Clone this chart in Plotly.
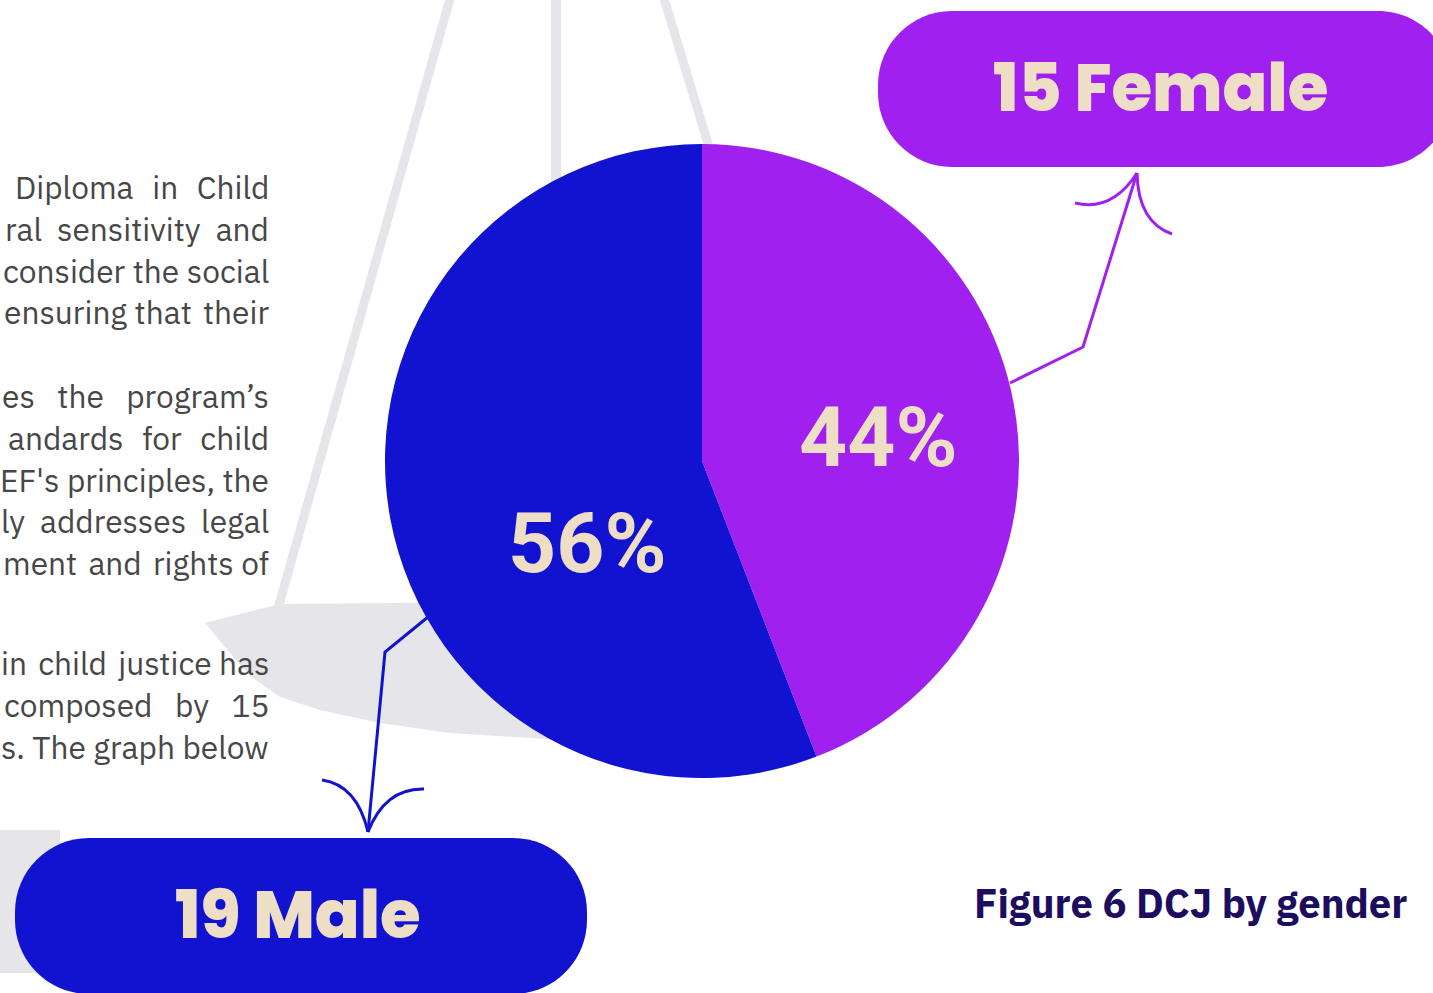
import plotly.graph_objects as go

# ---------------- data ----------------
genders = ["Female", "Male"]
counts = [15, 19]
slice_colors = ["#A020F0", "#1113D0"]
caption = "Figure 6 DCJ by gender"

NB, TH = "\u00a0", "\u2009"
body_lines = [
    f"Diploma{NB}{NB}{TH}in{NB}{NB}{TH}Child",
    f"ral{NB}{NB}sensitivity{NB}{NB}and",
    "consider the social",
    f"ensuring{NB}that{NB}{TH}their",
    f"es{NB}{NB}{NB}the{NB}{NB}{NB}program\u2019s",
    f"andards{NB}{NB}{TH}for{NB}{NB}{TH}child",
    "EF's principles, the",
    f"ly{NB}{NB}addresses{NB}{NB}legal",
    f"ment{NB}{TH}and{NB}{TH}rights{NB}of",
    f"in{NB}{TH}child{NB}{TH}justice{NB}has",
    f"composed{NB}{NB}{NB}by{NB}{NB}{NB}15",
    "s. The graph below",
]
body_y = [187, 229, 271, 312, 396, 438, 480, 521, 563, 663, 705, 747]

# ---------------- helpers ----------------
W, H = 1433, 993
CREAM = "#EEDEC6"
GRAY = "#E6E6EA"


def P(x, y):
    return f"{x / W:.5f},{1 - y / H:.5f}"


def path(cmds):
    out = []
    for c in cmds:
        op, pts = c[0], c[1:]
        out.append(op + " " + " ".join(P(*p) for p in pts))
    return " ".join(out)


def rrect(x0, y0, x1, y1, r):
    k = 0.5523 * r
    return path([
        ("M", (x0 + r, y0)),
        ("L", (x1 - r, y0)),
        ("C", (x1 - r + k, y0), (x1, y0 + r - k), (x1, y0 + r)),
        ("L", (x1, y1 - r)),
        ("C", (x1, y1 - r + k), (x1 - r + k, y1), (x1 - r, y1)),
        ("L", (x0 + r, y1)),
        ("C", (x0 + r - k, y1), (x0, y1 - r + k), (x0, y1 - r)),
        ("L", (x0, y0 + r)),
        ("C", (x0, y0 + r - k), (x0 + r - k, y0), (x0 + r, y0)),
    ]) + " Z"


shapes = []


def add_path(p, fill=None, line_color=None, width=0, layer="above"):
    shapes.append(dict(
        type="path", xref="paper", yref="paper", path=p, layer=layer,
        fillcolor=fill if fill else "rgba(0,0,0,0)",
        line=dict(color=line_color if line_color else "rgba(0,0,0,0)", width=width),
    ))


# background scale of justice (light gray)
add_path(path([("M", (451, -5)), ("L", (277, 612))]), line_color=GRAY, width=9, layer="below")
add_path(path([("M", (556, -5)), ("L", (556, 220))]), line_color=GRAY, width=10, layer="below")
add_path(path([("M", (663, -5)), ("L", (716, 170))]), line_color=GRAY, width=9, layer="below")
add_path(path([
    ("M", (205, 623)), ("L", (280, 604)), ("L", (640, 601)), ("L", (640, 742)),
    ("L", (547, 739)), ("L", (450, 733)), ("L", (380, 723)), ("L", (320, 710)),
    ("L", (280, 697)), ("L", (250, 676)), ("L", (230, 653)), ("Z",),
]), fill=GRAY, layer="below")
add_path(path([("M", (0, 830)), ("L", (60, 830)), ("L", (60, 973)), ("L", (0, 973)), ("Z",)]),
         fill=GRAY, layer="below")

# pills
add_path(rrect(878, 11, 1452, 167, 74), fill=slice_colors[0])
add_path(rrect(15, 838, 587, 994, 74), fill=slice_colors[1])

# arrows
FEM, MAL = slice_colors
add_path(path([("M", (1010, 383)), ("L", (1083, 347)), ("L", (1137, 173))]), line_color=FEM, width=3)
add_path(path([("M", (1075, 203)), ("Q", (1112, 212), (1137, 173))]), line_color=FEM, width=3)
add_path(path([("M", (1137, 173)), ("Q", (1138, 222), (1172, 234))]), line_color=FEM, width=3)
add_path(path([("M", (428, 617)), ("L", (385, 652)), ("L", (368, 832))]), line_color=MAL, width=3)
add_path(path([("M", (322, 780)), ("Q", (357, 785), (368, 832))]), line_color=MAL, width=3)
add_path(path([("M", (368, 832)), ("Q", (385, 788), (424, 789))]), line_color=MAL, width=3)

# ---------------- figure ----------------
fig = go.Figure()
fig.add_trace(go.Pie(
    labels=genders, values=counts, sort=False, direction="clockwise", rotation=0,
    marker=dict(colors=slice_colors, line=dict(width=0)),
    textinfo="none", hoverinfo="label+value+percent", showlegend=False,
    domain=dict(x=[385 / W, 1019 / W], y=[1 - 778 / H, 1 - 144 / H]),
))

total = sum(counts)
pct = [f"{round(100 * c / total)}%" for c in counts]

annotations = []
pct_pos = [(878, 437), (587, 543)]
for t, (x, y) in zip(pct, pct_pos):
    annotations.append(dict(
        x=x / W, y=1 - y / H, xref="paper", yref="paper", text=t, showarrow=False,
        xanchor="center", yanchor="middle",
        font=dict(family="Roboto, sans-serif", size=84, color=CREAM, weight=700),
    ))

pill_pos = [(1160, 88), (298, 915)]
for g, c, (x, y) in zip(genders, counts, pill_pos):
    annotations.append(dict(
        x=x / W, y=1 - y / H, xref="paper", yref="paper", text=f"{c} {g}", showarrow=False,
        xanchor="center", yanchor="middle",
        font=dict(family="Poppins, Inter, Lato, sans-serif", size=66, color=CREAM, weight=800),
    ))

for t, y in zip(body_lines, body_y):
    annotations.append(dict(
        x=271 / W, y=1 - y / H, xref="paper", yref="paper", text=t, showarrow=False,
        xanchor="right", yanchor="middle",
        font=dict(family="IBM Plex Sans, Roboto, sans-serif", size=31.7, color="#474747"),
    ))

annotations.append(dict(
    x=1409 / W, y=1 - 903 / H, xref="paper", yref="paper", text=f"<b>{caption}</b>", showarrow=False,
    xanchor="right", yanchor="middle",
    font=dict(family="IBM Plex Sans, Roboto, sans-serif", size=40, color="#1D0D5E"),
))

fig.update_layout(
    width=W, height=H, margin=dict(l=0, r=0, t=0, b=0),
    paper_bgcolor="white", plot_bgcolor="white",
    shapes=shapes, annotations=annotations, showlegend=False,
)

post = """
document.body.style.margin = '0';
document.body.style.overflow = 'hidden';
"""

fig.write_html("out.html", post_script=post, config={"displayModeBar": False})
